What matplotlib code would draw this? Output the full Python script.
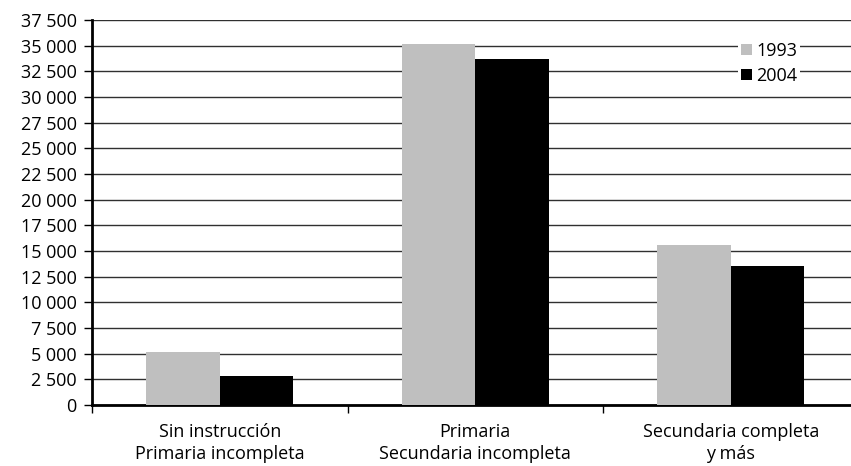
import numpy as np
import matplotlib.pyplot as plt
from matplotlib.ticker import FuncFormatter, FixedLocator

categorias = ["Sin instrucción\nPrimaria incompleta",
              "Primaria\nSecundaria incompleta",
              "Secundaria completa\ny más"]
anio_1993 = [5150, 35150, 15600]
anio_2004 = [2800, 33700, 13500]

plt.rcParams['font.family'] = ['Open Sans', 'DejaVu Sans']

fig = plt.figure(figsize=(8.51, 4.66), dpi=100)
ax = fig.add_axes([92 / 851, 1 - 405 / 466, 766.5 / 851, 385 / 466])

x = np.arange(len(categorias))
ancho = 0.287
ax.bar(x - ancho / 2, anio_1993, ancho, color="#bfbfbf", label="1993", zorder=3)
ax.bar(x + ancho / 2, anio_2004, ancho, color="#000000", label="2004", zorder=3)

ax.set_ylim(0, 37500)
ax.set_xlim(-0.5, len(categorias) - 0.5)
ax.set_yticks(np.arange(0, 37501, 2500))
ax.yaxis.set_major_formatter(FuncFormatter(lambda v, p: f"{int(v):,}".replace(",", " ")))
ax.grid(axis="y", color="#303030", linewidth=1, zorder=0)

ax.set_xticks(x)
ax.set_xticklabels(categorias, fontsize=13, linespacing=1.3)
ax.tick_params(axis="x", length=0, pad=13)
ax.xaxis.set_minor_locator(FixedLocator([-0.5, 0.5, 1.5, 2.5]))
ax.tick_params(axis="x", which="minor", length=6, width=1, color="black")
ax.tick_params(axis="y", length=6, width=1, labelsize=13, pad=5)

for s in ["top", "right"]:
    ax.spines[s].set_visible(False)
ax.spines["left"].set_linewidth(2)
ax.spines["bottom"].set_linewidth(2)

leg = ax.legend(loc="upper left", bbox_to_anchor=((738 - 92) / 766.5, 1 - 19 / 385),
                frameon=True, fontsize=13, handlelength=0.6, handleheight=0.6,
                handletextpad=0.25, labelspacing=0.4, borderpad=0.15, borderaxespad=0)
leg.get_frame().set_edgecolor("none")
leg.get_frame().set_facecolor("white")
leg.get_frame().set_alpha(1)
leg.set_zorder(5)

fig.savefig("out.png", dpi=100)
